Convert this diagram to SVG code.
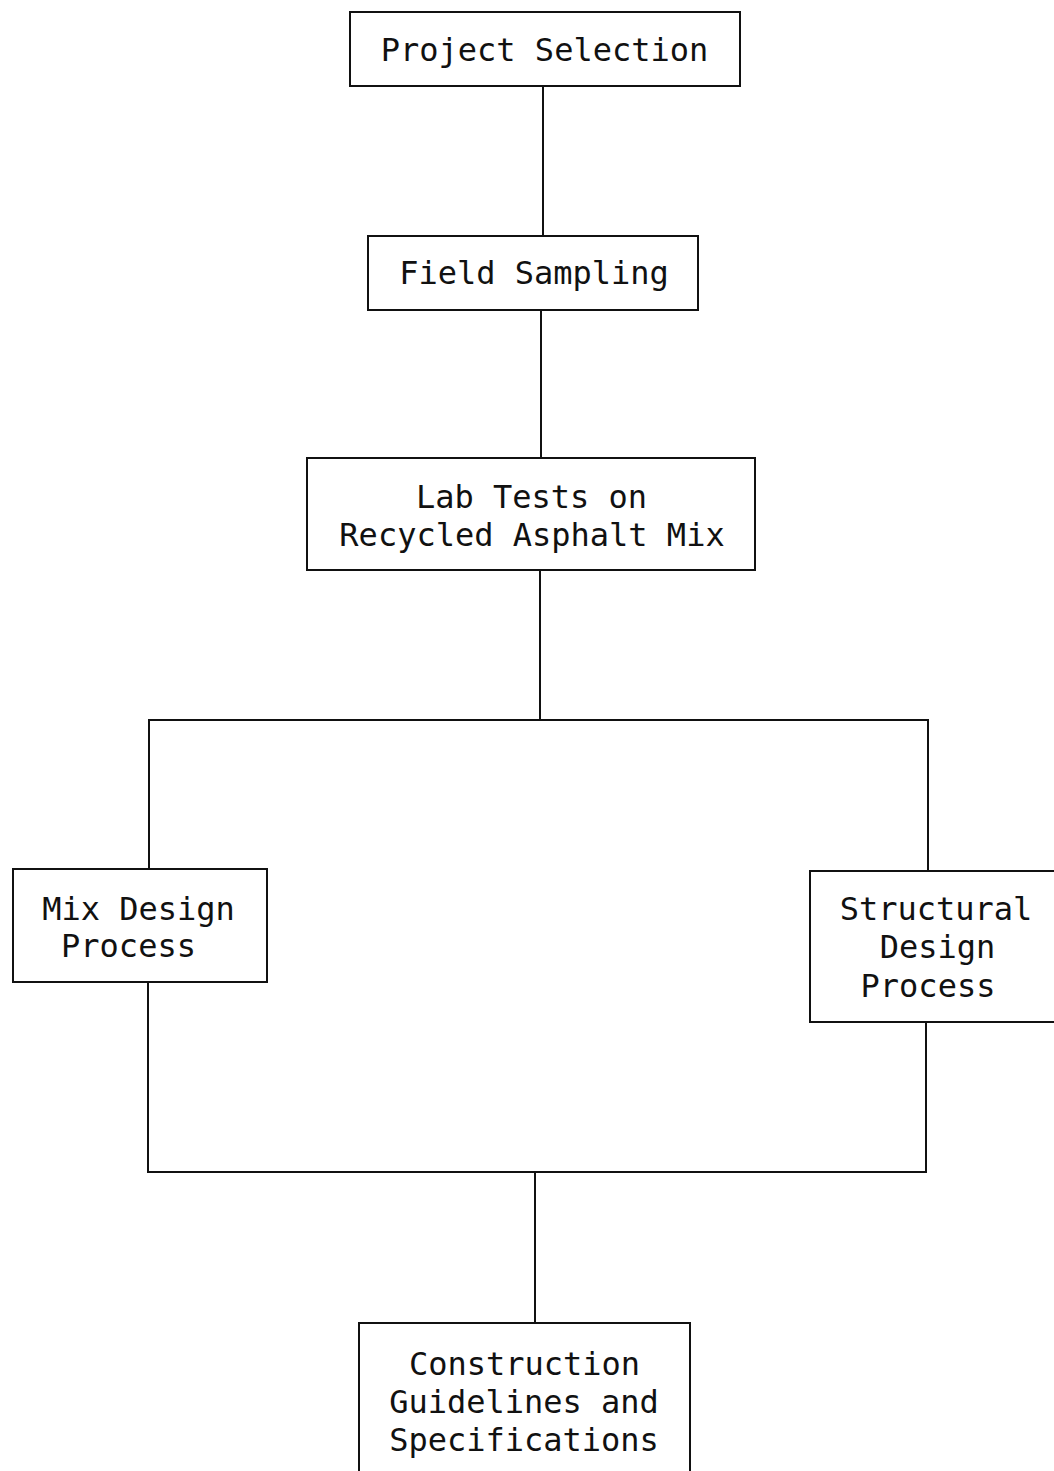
<svg xmlns="http://www.w3.org/2000/svg" width="1054" height="1471" viewBox="0 0 1054 1471">
<style>
.box{fill:#fff;stroke:#111;stroke-width:2}
.ln{fill:none;stroke:#111;stroke-width:2}
text{font-family:"DejaVu Sans Mono","Liberation Mono",monospace;font-size:32px;fill:#111;text-anchor:middle}
</style>
<rect width="1054" height="1471" fill="#fff"/>
<g id="connectors">
<line class="ln" x1="543" y1="86" x2="543" y2="236"/>
<line class="ln" x1="541" y1="310" x2="541" y2="458"/>
<line class="ln" x1="540" y1="570" x2="540" y2="720"/>
<polyline class="ln" points="149,869 149,720 928,720 928,871"/>
<polyline class="ln" points="148,982 148,1172 926,1172 926,1022"/>
<line class="ln" x1="535" y1="1172" x2="535" y2="1323"/>
</g>
<g id="project-selection">
<rect class="box" x="350" y="12" width="390" height="74"/>
<text x="544.5" y="61">Project Selection</text>
</g>
<g id="field-sampling">
<rect class="box" x="368" y="236" width="330" height="74"/>
<text x="534" y="284">Field Sampling</text>
</g>
<g id="lab-tests">
<rect class="box" x="307" y="458" width="448" height="112"/>
<text x="531.5" y="508">Lab Tests on</text>
<text x="532" y="546">Recycled Asphalt Mix</text>
</g>
<g id="mix-design">
<rect class="box" x="13" y="869" width="254" height="113"/>
<text x="138.5" y="920">Mix Design</text>
<text x="128.5" y="957">Process</text>
</g>
<g id="structural-design">
<rect class="box" x="810" y="871" width="260" height="151"/>
<text x="936" y="920">Structural</text>
<text x="937.5" y="958">Design</text>
<text x="928" y="997">Process</text>
</g>
<g id="construction-guidelines">
<rect class="box" x="359" y="1323" width="331" height="160"/>
<text x="524.5" y="1375">Construction</text>
<text x="524" y="1413">Guidelines and</text>
<text x="524" y="1451">Specifications</text>
</g>
</svg>
